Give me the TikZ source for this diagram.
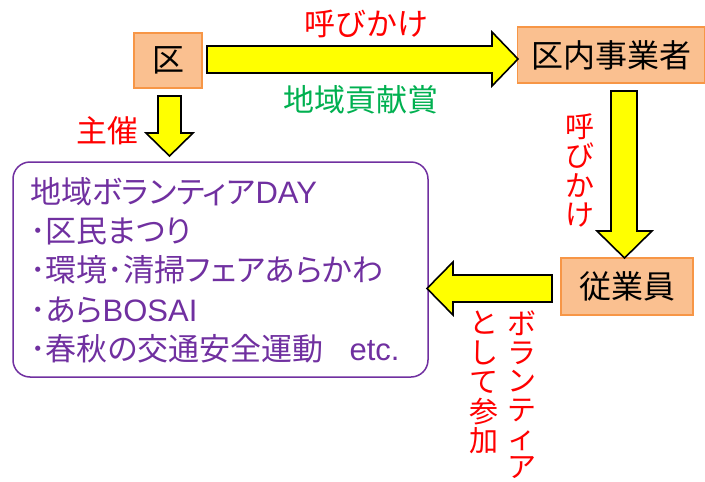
\documentclass[tikz,border=0pt]{standalone}
\usepackage{fontspec}
\setmainfont{Noto Sans CJK JP}
\newfontfamily\jpp[RawFeature=+palt]{Noto Sans CJK JP}
\newfontfamily\lat{Liberation Sans}
\definecolor{boxfill}{HTML}{FAC090}
\definecolor{boxline}{HTML}{F79646}
\definecolor{arrowfill}{HTML}{FFFF00}
\definecolor{purp}{HTML}{7030A0}
\definecolor{redtxt}{HTML}{FF0000}
\definecolor{greentxt}{HTML}{00B050}
\tikzset{
  orgbox/.style={draw=boxline, line width=1.5pt, fill=boxfill, inner sep=0pt,
    font=\fontsize{32}{34}\selectfont, text=black},
  blockarrow/.style={draw=black, line width=1.6pt, fill=arrowfill, line join=miter},
  lbl/.style={font=\fontsize{31}{33}\selectfont, inner sep=0pt},
  vlbl/.style={font=\fontsize{29}{29.5}\selectfont, inner sep=0pt, align=center, anchor=north},
}
\begin{document}
\begin{tikzpicture}[x=1pt,y=-1pt]
\useasboundingbox (0,0) rectangle (705,482);
% boxes
\node[orgbox, minimum width=68pt, minimum height=55pt] (ku) at (168,60.5) {区};
\node[orgbox, minimum width=187pt, minimum height=56pt] (jigyo) at (611,55) {区内事業者};
\node[orgbox, minimum width=132pt, minimum height=57pt] (jugyo) at (627,286.5) {従業員};
\draw[purp, line width=1.5pt, rounded corners=17pt] (13,162) rectangle (428,377);
\node[anchor=north west, inner sep=0pt, text=purp, align=left,
  font=\jpp\fontsize{31}{39.3}\selectfont] (events) at (30,177)
  {地域ボランティア{\lat DAY}\\
   ･区民まつり\\
   ･環境･清掃フェアあらかわ\\
   ･あら{\lat BOSAI}\\
   ･春秋の交通安全運動\hspace{26pt}{\lat etc.}};
% arrows
\draw[blockarrow] (207,46) -- (492,46) -- (492,32) -- (518,59) -- (492,86) -- (492,73) -- (207,73) -- cycle;
\draw[blockarrow] (158,96) -- (181,96) -- (181,133) -- (193,133) -- (169.5,156) -- (146,133) -- (158,133) -- cycle;
\draw[blockarrow] (611,91) -- (637,91) -- (637,231) -- (652,231) -- (624.5,258) -- (597,231) -- (611,231) -- cycle;
\draw[blockarrow] (552,275) -- (453,275) -- (453,262) -- (427,288.5) -- (453,315) -- (453,302) -- (552,302) -- cycle;
% labels
\node[lbl, text=redtxt] (yobi1) at (366,24) {呼びかけ};
\node[lbl, text=greentxt] (koken) at (360.5,100) {地域貢献賞};
\node[lbl, text=redtxt] (shusai) at (107,131) {主催};
\node[vlbl, text=redtxt] (yobi2) at (580,113) {呼\\び\\か\\け};
\node[vlbl, text=redtxt, font=\fontsize{29}{28.5}\selectfont] (vol) at (522,311) {ボ\\ラ\\ン\\テ\\ィ\\ア};
\node[vlbl, text=redtxt] (sanka) at (484,311) {と\\し\\て\\参\\加};
\end{tikzpicture}
\end{document}
